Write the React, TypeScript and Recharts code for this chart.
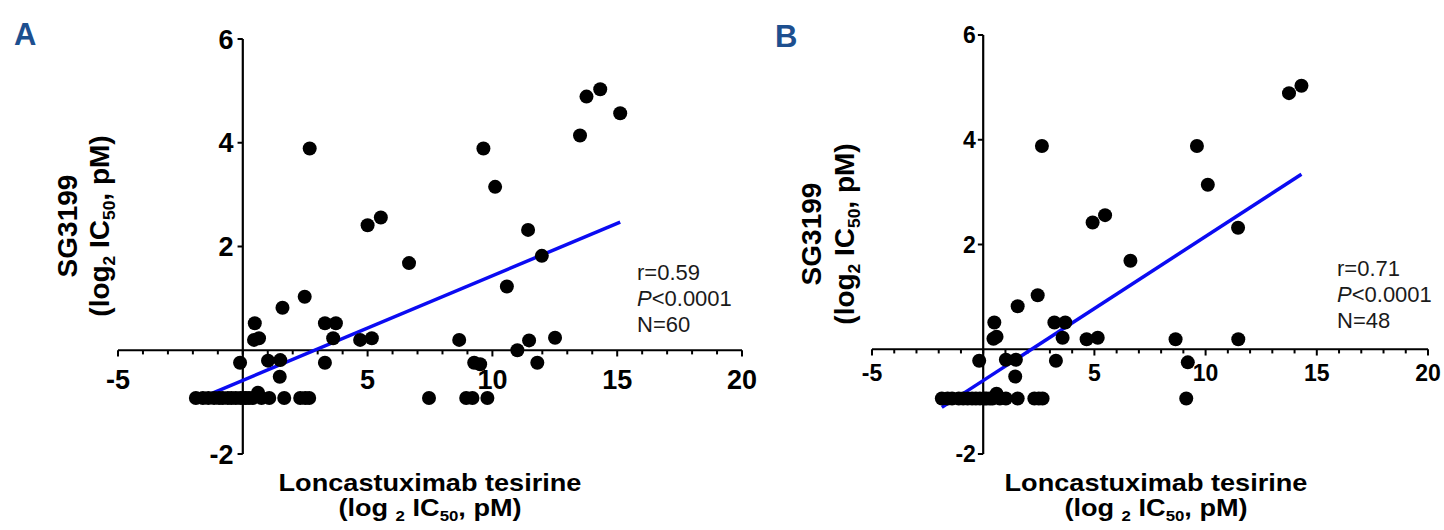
import { ReferenceLine, Scatter, ScatterChart, XAxis, YAxis } from "recharts";

// values (log2 IC50, pM)
const panelAPoints: [number, number][] = [
  [-1.88, -0.92], [-1.6, -0.92], [-1.38, -0.92], [-1.15, -0.92], [-0.95, -0.92],
  [-0.8, -0.92], [-0.6, -0.92], [-0.45, -0.92], [-0.28, -0.92], [-0.1, -0.92],
  [0.02, -0.92], [0.12, -0.92], [0.25, -0.92], [0.4, -0.92], [0.61, -0.82],
  [0.75, -0.92], [1.06, -0.92], [1.66, -0.92], [2.3, -0.92], [2.5, -0.92],
  [2.66, -0.92],
  [2.68, 3.89], [5.0, 2.41], [5.53, 2.56], [6.66, 1.68], [2.48, 1.03],
  [1.59, 0.82], [0.48, 0.52], [0.45, 0.2], [0.65, 0.23], [3.29, 0.52],
  [3.73, 0.52], [3.62, 0.23], [4.7, 0.2], [5.17, 0.23], [8.67, 0.2],
  [-0.11, -0.24], [1.01, -0.2], [1.5, -0.19], [1.48, -0.51], [3.29, -0.24],
  [9.64, 3.89], [10.11, 3.15], [11.43, 2.32], [11.98, 1.82], [10.58, 1.23],
  [11.0, 0.0], [11.47, 0.19], [11.8, -0.24], [12.51, 0.24], [9.27, -0.24],
  [9.51, -0.27], [13.51, 4.14], [13.77, 4.89], [14.32, 5.03], [15.12, 4.57],
  [7.46, -0.92], [8.95, -0.92], [9.2, -0.92], [9.8, -0.92],
];

const panelBPoints: [number, number][] = [
  [-1.86, -0.94], [-1.6, -0.94], [-1.4, -0.94], [-1.1, -0.94], [-0.9, -0.94],
  [-0.7, -0.94], [-0.5, -0.94], [-0.33, -0.94], [-0.15, -0.94], [0.05, -0.94],
  [0.15, -0.94], [0.3, -0.94], [0.42, -0.94], [0.6, -0.85], [0.75, -0.94],
  [1.02, -0.94], [1.55, -0.94], [2.3, -0.94], [2.5, -0.94], [2.67, -0.94],
  [2.64, 3.88], [2.45, 1.03], [1.55, 0.82], [0.5, 0.51], [0.46, 0.2],
  [0.6, 0.24], [3.2, 0.51], [3.69, 0.51], [3.57, 0.22], [4.65, 0.19],
  [5.15, 0.22], [-0.18, -0.22], [1.02, -0.2], [1.47, -0.2], [1.44, -0.52],
  [3.27, -0.22], [4.92, 2.42], [5.48, 2.56], [6.62, 1.69], [9.61, 3.88],
  [10.1, 3.14], [11.46, 2.32], [13.75, 4.89], [14.31, 5.03], [8.65, 0.19],
  [11.47, 0.19], [9.2, -0.25], [9.13, -0.94],
];

// regression line ends
const fitA: [number, number][] = [[-1.88, -0.96], [15.12, 2.47]];
const fitB: [number, number][] = [[-1.86, -1.11], [14.31, 3.34]];

const xTicks = [-5, -4, -3, -2, -1, 0, 1, 2, 3, 4, 5, 6, 7, 8, 9, 10, 11, 12, 13, 14, 15, 16, 17, 18, 19, 20];
const xTickLabels = [-5, 5, 10, 15, 20];
const yTickLabels = [-2, 2, 4, 6];

const statsA = ["r=0.59", "<0.0001", "N=60"];
const statsB = ["r=0.71", "<0.0001", "N=48"];

const FONT = '"Liberation Sans", Arial, Helvetica, sans-serif';

const Dot = (props: any) => <circle cx={props.cx} cy={props.cy} r={7} fill="#000" />;

function Panel({ points, fit, width, height, margin, tickFont, xLabelOffset, yLabelOffset, yTickLen }: any) {
  const data = points.map(([x, y]: number[]) => ({ x, y }));
  const fitData = fit.map(([x, y]: number[]) => ({ x, y }));
  const labelStyle = { fill: "#000", fontSize: tickFont, fontWeight: "bold", fontFamily: FONT };
  return (
    <ScatterChart width={width} height={height} margin={margin}>
      <XAxis type="number" dataKey="x" domain={[-5, 20]} hide allowDataOverflow />
      <YAxis type="number" dataKey="y" domain={[-2, 6]} hide allowDataOverflow />
      <ReferenceLine y={0} stroke="#000" strokeWidth={2.2} />
      <ReferenceLine x={0} stroke="#000" strokeWidth={2.2} />
      {xTicks.map((t) => {
        const major = xTickLabels.includes(t);
        return (
          <ReferenceLine
            key={"x" + t}
            segment={[{ x: t, y: 0 }, { x: t, y: major ? -0.12 : -0.08 }]}
            stroke="#000"
            strokeWidth={2}
            label={major ? { value: String(t), position: "bottom", offset: xLabelOffset, ...labelStyle } : undefined}
          />
        );
      })}
      {yTickLabels.map((t) => (
        <ReferenceLine
          key={"y" + t}
          segment={[{ x: -yTickLen, y: t }, { x: 0, y: t }]}
          stroke="#000"
          strokeWidth={2}
          label={{ value: String(t), position: "left", offset: yLabelOffset, ...labelStyle }}
        />
      ))}
      <Scatter
        data={fitData}
        line={{ stroke: "#0b0bf2", strokeWidth: 3.5 }}
        shape={() => <g />}
        isAnimationActive={false}
      />
      <Scatter data={data} shape={Dot} isAnimationActive={false} />
    </ScatterChart>
  );
}

const Sub = ({ children }: any) => (
  <span style={{ fontSize: "0.62em", position: "relative", top: "0.35em" }}>{children}</span>
);

function YTitle({ cx, cy, gap }: any) {
  return (
    <div
      style={{
        position: "absolute",
        left: cx - 160,
        top: cy - gap,
        width: 320,
        height: gap * 2,
        lineHeight: gap + "px",
        textAlign: "center",
        fontFamily: FONT,
        fontWeight: "bold",
        fontSize: 28,
        transform: "rotate(-90deg)",
        transformOrigin: "center",
        whiteSpace: "nowrap",
      }}
    >
      <div>SG3199</div>
      <div>
        (log<Sub>2</Sub> IC<Sub>50</Sub>, pM)
      </div>
    </div>
  );
}

function XTitle({ cx, top }: any) {
  return (
    <div
      style={{
        position: "absolute",
        left: cx - 250,
        top,
        width: 500,
        lineHeight: "25px",
        textAlign: "center",
        fontFamily: FONT,
        fontWeight: "bold",
        fontSize: 24,
        transform: "scaleX(1.13)",
        transformOrigin: "center",
        whiteSpace: "nowrap",
      }}
    >
      <div>Loncastuximab tesirine</div>
      <div>
        (log <Sub>2</Sub> IC<Sub>50</Sub>, pM)
      </div>
    </div>
  );
}

function Stats({ left, top, lines }: any) {
  return (
    <div
      style={{
        position: "absolute",
        left,
        top,
        lineHeight: "26px",
        fontFamily: FONT,
        fontSize: 22,
        color: "#1a1a1a",
        whiteSpace: "nowrap",
      }}
    >
      <div>{lines[0]}</div>
      <div>
        <i>P</i>
        {lines[1]}
      </div>
      <div>{lines[2]}</div>
    </div>
  );
}

const letterStyle: any = {
  position: "absolute",
  fontFamily: FONT,
  fontWeight: "bold",
  fontSize: 31,
  lineHeight: "31px",
  color: "#1d4f8f",
};

export default function App() {
  return (
    <div style={{ position: "absolute", left: 0, top: 0, width: 1444, height: 530, background: "#fff", overflow: "hidden" }}>
      <div style={{ position: "absolute", left: 0, top: 0 }}>
        <Panel
          points={panelAPoints}
          fit={fitA}
          width={760}
          height={530}
          margin={{ top: 39, right: 18, bottom: 76, left: 118 }}
          tickFont={27}
          xLabelOffset={13}
          yLabelOffset={4}
          yTickLen={0.21}
        />
      </div>
      <div style={{ position: "absolute", left: 760, top: 0 }}>
        <Panel
          points={panelBPoints}
          fit={fitB}
          width={684}
          height={530}
          margin={{ top: 35, right: 16, bottom: 76, left: 112 }}
          tickFont={23}
          xLabelOffset={9}
          yLabelOffset={2}
          yTickLen={0.24}
        />
      </div>
      <div style={{ ...letterStyle, left: 14, top: 19 }}>A</div>
      <div style={{ ...letterStyle, left: 775, top: 21 }}>B</div>
      <YTitle cx={84} cy={226} gap={32} />
      <YTitle cx={828} cy={234} gap={33} />
      <XTitle cx={430} top={470} />
      <XTitle cx={1156} top={470} />
      <Stats left={637} top={260} lines={statsA} />
      <Stats left={1337} top={256} lines={statsB} />
    </div>
  );
}
